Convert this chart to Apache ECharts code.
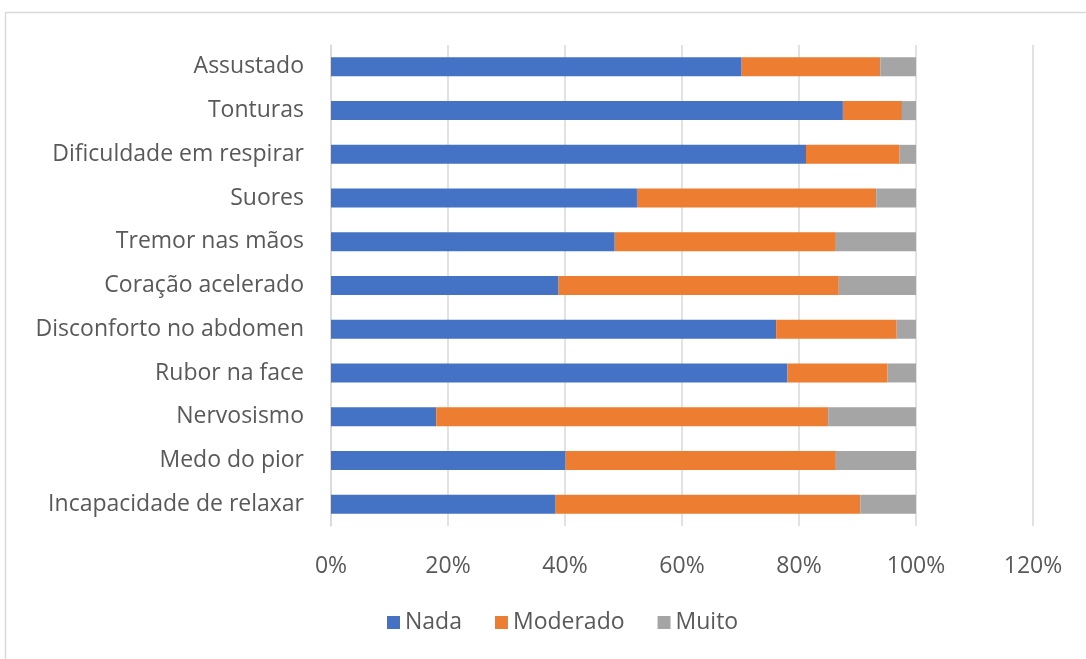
<!DOCTYPE html>
<html>
<head>
<meta charset="utf-8">
<script src="https://cdn.jsdelivr.net/npm/echarts@6/dist/echarts.min.js"></script>
<style>
html,body{margin:0;padding:0;background:#fff;}
#c{width:1086px;height:659px;}
</style>
</head>
<body>
<div id="c"></div>
<script>
const categories = ["Incapacidade de relaxar","Medo do pior","Nervosismo","Rubor na face","Disconforto no abdomen","Coração acelerado","Tremor nas mãos","Suores","Dificuldade em respirar","Tonturas","Assustado"];
const nada = [0.384,0.401,0.180,0.780,0.761,0.389,0.485,0.523,0.812,0.875,0.701];
const moderado = [0.521,0.462,0.670,0.171,0.206,0.479,0.378,0.409,0.160,0.101,0.238];
const muito = [0.095,0.137,0.150,0.049,0.033,0.132,0.137,0.068,0.028,0.024,0.061];
const xTicks = [0,0.2,0.4,0.6,0.8,1.0,1.2];

const font = "Open Sans";
const chart = echarts.init(document.getElementById('c'));
const mk = (name, data, color) => ({
  name, type:'bar', stack:'t', data, barWidth: 19,
  itemStyle:{color}, emphasis:{disabled:true}
});
chart.setOption({
  animation:false,
  graphic:[{type:'rect', shape:{x:5.5,y:12.5,width:1200,height:800}, style:{fill:'none',stroke:'#d9d9d9',lineWidth:1.5}, silent:true}],
  grid:{left:331, right:53, top:45, bottom:133, containLabel:false},
  legend:{
    data:['Nada','Moderado','Muito'], bottom:20, left:382,
    itemWidth:13, itemHeight:13, itemGap:33, icon:'rect',
    textStyle:{color:'#595959', fontSize:23, fontFamily:font, padding:[0,0,0,0]}
  },
  xAxis:{
    type:'value', min:0, max:1.2, interval:0.2,
    axisLine:{show:false}, axisTick:{show:false},
    splitLine:{lineStyle:{color:'#d9d9d9', width:1.5}},
    axisLabel:{color:'#595959', fontSize:23, fontFamily:font, margin:29,
      formatter:v=>Math.round(v*100)+'%'}
  },
  yAxis:{
    type:'category', data:categories,
    axisLine:{show:true, lineStyle:{color:'#d9d9d9', width:1.5}},
    axisTick:{show:false},
    axisLabel:{color:'#595959', fontSize:23, fontFamily:font, margin:27}
  },
  series:[mk('Nada',nada,'#4472C4'), mk('Moderado',moderado,'#ED7D31'), mk('Muito',muito,'#A5A5A5')]
});
</script>
</body>
</html>
